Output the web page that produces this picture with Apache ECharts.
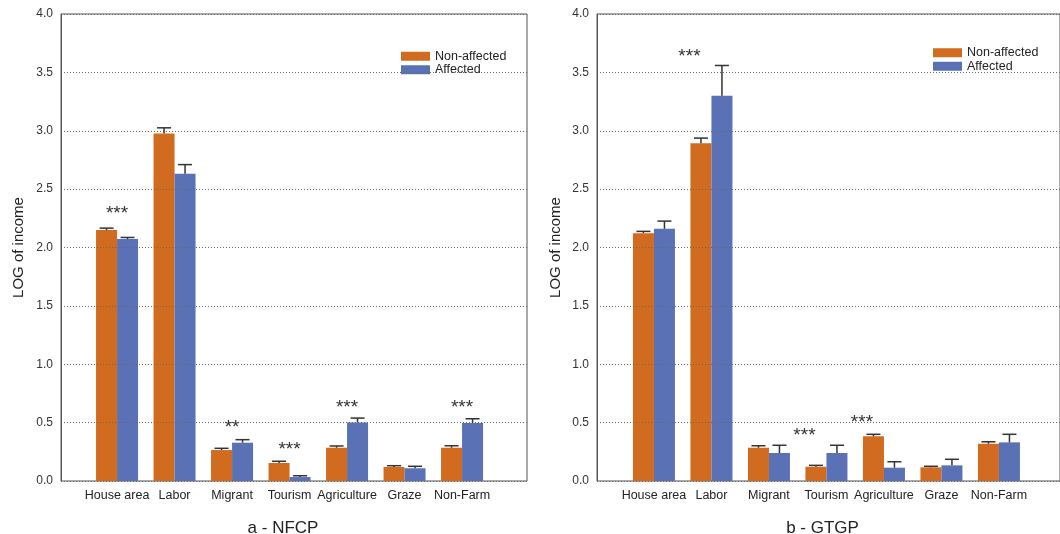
<!DOCTYPE html>
<html><head><meta charset="utf-8">
<script src="https://cdn.jsdelivr.net/npm/echarts@6/dist/echarts.min.js"></script>
<style>html,body{margin:0;padding:0;background:#fff}#c{width:1060px;height:534px}</style>
</head><body><div id="c"></div>
<script>
// ---------- data ----------
const categories = ['House area', 'Labor', 'Migrant', 'Tourism', 'Agriculture', 'Graze', 'Non-Farm'];
const seriesNames = ['Non-affected', 'Affected'];
const panelTitles = ['a - NFCP', 'b - GTGP'];
const yAxisName = 'LOG of income';

// panel a - NFCP
const nfcpNonAffected    = [2.149, 2.977, 0.265, 0.154, 0.285, 0.120, 0.285];
const nfcpNonAffectedErr = [0.017, 0.048, 0.015, 0.015, 0.015, 0.011, 0.017];
const nfcpAffected       = [2.072, 2.631, 0.328, 0.034, 0.502, 0.109, 0.497];
const nfcpAffectedErr    = [0.014, 0.079, 0.026, 0.011, 0.037, 0.017, 0.036];
const nfcpSig            = ['***', '', '**', '***', '***', '', '***'];
const nfcpSigY           = [2.32, 0, 0.488, 0.302, 0.665, 0, 0.659];

// panel b - GTGP
const gtgpNonAffected    = [2.123, 2.894, 0.285, 0.122, 0.383, 0.117, 0.319];
const gtgpNonAffectedErr = [0.015, 0.043, 0.017, 0.012, 0.017, 0.009, 0.017];
const gtgpAffected       = [2.160, 3.299, 0.240, 0.240, 0.114, 0.134, 0.331];
const gtgpAffectedErr    = [0.066, 0.260, 0.066, 0.066, 0.051, 0.052, 0.069];
const gtgpSig            = ['', '***', '', '***', '***', '', ''];
const gtgpSigY           = [0, 3.67, 0, 0.422, 0.537, 0, 0];

// ---------- styling / layout ----------
const FONT = '"Liberation Sans", Arial, Helvetica, sans-serif';
const ORANGE = '#D06B1F';
const BLUE = '#5A72B5';
const ERR_COLOR = '#333333';

const panels = [
  { frameLeft: 61, barsLeft: 88.3, nameGap: 35, legendLeft: 396, legendTop: 44.5, titleX: 278, starDx: 0,
    non: nfcpNonAffected, nonErr: nfcpNonAffectedErr, aff: nfcpAffected, affErr: nfcpAffectedErr, sig: nfcpSig, sigY: nfcpSigY },
  { frameLeft: 597, barsLeft: 625.2, nameGap: 34, legendLeft: 928, legendTop: 41, titleX: 817.5, starDx: -22,
    non: gtgpNonAffected, nonErr: gtgpNonAffectedErr, aff: gtgpAffected, affErr: gtgpAffectedErr, sig: gtgpSig, sigY: gtgpSigY }
];
const TOP = 14, HEIGHT = 467, FRAME_W = 466, BARS_W = 402.5, BAR_W = 21;

const grids = [], xAxes = [], yAxes = [], series = [], legends = [], titles = [];

function errRenderer(dx) {
  return function (params, api) {
    const i = api.value(0), m = api.value(1), e = api.value(2);
    const p0 = api.coord([i, m]);
    const p1 = api.coord([i, m + e]);
    const x = p0[0] + dx;
    const cap = 7;
    return {
      type: 'group',
      children: [
        { type: 'line', shape: { x1: x, y1: p0[1], x2: x, y2: p1[1] }, style: { stroke: ERR_COLOR, lineWidth: 1.5 } },
        { type: 'line', shape: { x1: x - cap, y1: p1[1], x2: x + cap, y2: p1[1] }, style: { stroke: ERR_COLOR, lineWidth: 1.5 } }
      ]
    };
  };
}
function starRenderer(dx, texts) {
  return function (params, api) {
    const i = api.value(0), y = api.value(1);
    const p = api.coord([i, y]);
    return {
      type: 'text',
      x: p[0] + dx, y: p[1] + 4,
      style: { text: texts[params.dataIndex], fill: '#333', font: '19px ' + FONT, align: 'center', verticalAlign: 'middle' }
    };
  };
}

panels.forEach((P, k) => {
  const gFrame = grids.length;
  grids.push({ left: P.frameLeft, top: TOP, width: FRAME_W, height: HEIGHT, show: true, borderColor: '#555', borderWidth: 1, backgroundColor: 'transparent' });
  const gBars = grids.length;
  grids.push({ left: P.barsLeft, top: TOP, width: BARS_W, height: HEIGHT });

  xAxes.push({ gridIndex: gFrame, type: 'value', min: 0, max: 1, show: false });
  const xBars = xAxes.length;
  xAxes.push({
    gridIndex: gBars, type: 'category', data: categories,
    axisLine: { show: false }, axisTick: { show: false },
    axisLabel: { fontSize: 12.5, color: '#222', fontFamily: FONT, margin: 8, interval: 0 }
  });

  yAxes.push({
    gridIndex: gFrame, type: 'value', min: 0, max: 4, interval: 0.5, z: 5,
    name: yAxisName, nameLocation: 'middle', nameGap: P.nameGap,
    nameTextStyle: { fontSize: 15, color: '#222', fontFamily: FONT },
    axisLine: { show: true, lineStyle: { color: '#555', width: 1 } },
    axisTick: { show: false },
    axisLabel: { fontSize: 12, color: '#333', fontFamily: FONT, margin: 8, formatter: v => v.toFixed(1) },
    splitLine: { show: true, lineStyle: { type: [1, 2], color: '#666', width: 1 } }
  });
  const yBars = yAxes.length;
  yAxes.push({ gridIndex: gBars, type: 'value', min: 0, max: 4, show: false, splitLine: { show: false } });

  series.push({
    name: seriesNames[0], type: 'bar', xAxisIndex: xBars, yAxisIndex: yBars,
    data: P.non, barWidth: BAR_W, barGap: '0%', itemStyle: { color: ORANGE }, z: 2
  });
  series.push({
    name: seriesNames[1], type: 'bar', xAxisIndex: xBars, yAxisIndex: yBars,
    data: P.aff, barWidth: BAR_W, barGap: '0%', itemStyle: { color: BLUE }, z: 2
  });
  series.push({
    name: 'err-non-' + k, type: 'custom', xAxisIndex: xBars, yAxisIndex: yBars, z: 6,
    renderItem: errRenderer(-BAR_W / 2), data: P.non.map((v, i) => [i, v, P.nonErr[i]])
  });
  series.push({
    name: 'err-aff-' + k, type: 'custom', xAxisIndex: xBars, yAxisIndex: yBars, z: 6,
    renderItem: errRenderer(BAR_W / 2), data: P.aff.map((v, i) => [i, v, P.affErr[i]])
  });
  const sigItems = P.sig.map((s, i) => [i, P.sigY[i], s]).filter(d => d[2] !== '');
  series.push({
    name: 'sig-' + k, type: 'custom', xAxisIndex: xBars, yAxisIndex: yBars, z: 6,
    renderItem: starRenderer(P.starDx, sigItems.map(d => d[2])),
    data: sigItems.map(d => [d[0], d[1]])
  });

  legends.push({
    data: seriesNames, orient: 'vertical', left: P.legendLeft, top: P.legendTop,
    icon: 'rect', itemWidth: 29, itemHeight: 9, itemGap: 0, selectedMode: false,
    textStyle: { fontSize: 12.5, color: '#222', fontFamily: FONT, lineHeight: 13.5 }
  });

  titles.push({
    text: panelTitles[k], left: P.titleX, top: 515, textAlign: 'center',
    textStyle: { fontSize: 17, fontWeight: 'normal', color: '#222', fontFamily: FONT }
  });
});

const chart = echarts.init(document.getElementById('c'), null, { renderer: 'canvas' });
chart.setOption({
  animation: false,
  backgroundColor: '#fff',
  title: titles,
  legend: legends,
  grid: grids,
  xAxis: xAxes,
  yAxis: yAxes,
  series: series
});
</script>
</body></html>
